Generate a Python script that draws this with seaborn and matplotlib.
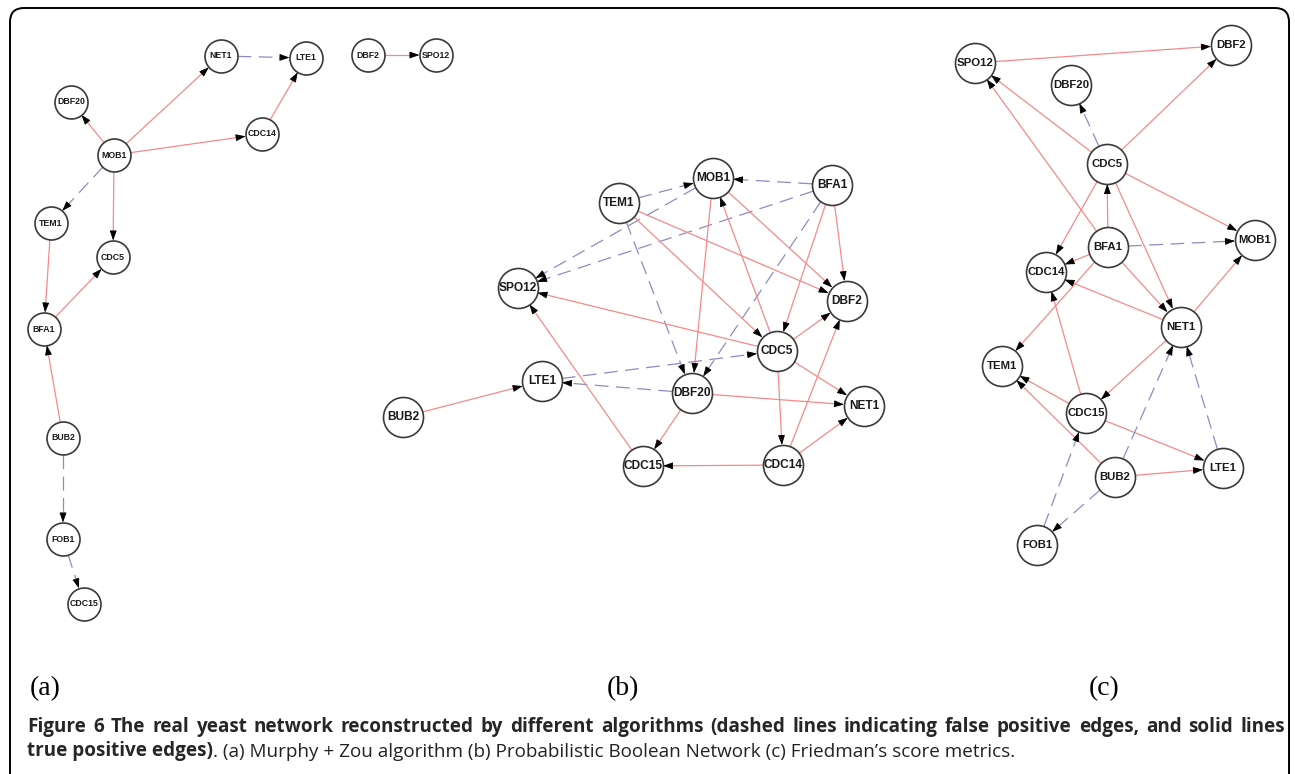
import numpy as np
import pandas as pd
import matplotlib
matplotlib.use('Agg')
import matplotlib.pyplot as plt
from matplotlib.patches import FancyBboxPatch
import seaborn as sns

# ---- panel (a): Murphy + Zou ----
a_nodes = ['NET1', 'LTE1', 'DBF2', 'SPO12', 'DBF20', 'MOB1', 'CDC14', 'TEM1',
           'CDC5', 'BFA1', 'BUB2', 'FOB1', 'CDC15']
a_x = [221, 306, 368, 436, 71, 114, 262, 51, 113, 44, 63, 63, 84]
a_y = [56, 58, 55, 55, 102, 155, 134, 223, 257, 329, 438, 539, 604]
a_src = ['NET1', 'DBF2', 'MOB1', 'MOB1', 'MOB1', 'CDC14', 'MOB1', 'MOB1', 'TEM1', 'BFA1', 'BUB2', 'BUB2', 'FOB1']
a_dst = ['LTE1', 'SPO12', 'DBF20', 'NET1', 'CDC14', 'LTE1', 'TEM1', 'CDC5', 'BFA1', 'CDC5', 'BFA1', 'FOB1', 'CDC15']
a_false = [1, 0, 0, 0, 0, 0, 1, 0, 0, 0, 0, 1, 1]

# ---- panel (b): Probabilistic Boolean Network ----
b_nodes = ['MOB1', 'BFA1', 'TEM1', 'SPO12', 'DBF2', 'CDC5', 'LTE1', 'DBF20',
           'NET1', 'BUB2', 'CDC15', 'CDC14']
b_x = [713, 832, 619, 518, 847, 777, 542, 692, 864, 403, 643, 783]
b_y = [178, 185, 203, 288, 301, 351, 381, 393, 406, 417, 466, 465]
b_src = ['BFA1', 'TEM1', 'MOB1', 'BFA1', 'TEM1', 'BFA1', 'MOB1', 'MOB1', 'TEM1', 'TEM1',
         'CDC5', 'BFA1', 'BFA1', 'CDC5', 'CDC5', 'CDC5', 'CDC5', 'LTE1', 'DBF20',
         'DBF20', 'DBF20', 'CDC15', 'CDC14', 'CDC14', 'CDC14', 'BUB2']
b_dst = ['MOB1', 'MOB1', 'SPO12', 'SPO12', 'DBF20', 'DBF20', 'DBF20', 'DBF2', 'DBF2', 'CDC5',
         'MOB1', 'CDC5', 'DBF2', 'SPO12', 'DBF2', 'NET1', 'CDC14', 'CDC5', 'LTE1',
         'NET1', 'CDC15', 'SPO12', 'CDC15', 'DBF2', 'NET1', 'LTE1']
b_false = [1, 1, 1, 1, 1, 1, 0, 0, 0, 0,
           0, 0, 0, 0, 0, 0, 0, 1, 1,
           0, 0, 0, 0, 0, 0, 0]

# ---- panel (c): Friedman's score metrics ----
c_nodes = ['SPO12', 'DBF2', 'DBF20', 'CDC5', 'MOB1', 'BFA1', 'CDC14', 'NET1',
           'TEM1', 'CDC15', 'LTE1', 'BUB2', 'FOB1']
c_x = [975, 1231, 1071, 1107, 1255, 1108, 1046, 1181, 1002, 1086, 1223, 1115, 1037]
c_y = [63, 45, 85, 164, 240, 247, 272, 327, 366, 413, 468, 477, 545]
c_src = ['SPO12', 'CDC5', 'CDC5', 'BFA1', 'CDC5', 'CDC5', 'BFA1', 'CDC5', 'CDC5', 'BFA1',
         'BFA1', 'BFA1', 'NET1', 'NET1', 'BFA1', 'CDC15', 'NET1', 'CDC15', 'BUB2',
         'CDC15', 'BUB2', 'BUB2', 'LTE1', 'FOB1', 'BUB2']
c_dst = ['DBF2', 'DBF20', 'SPO12', 'SPO12', 'DBF2', 'MOB1', 'CDC5', 'CDC14', 'NET1', 'MOB1',
         'CDC14', 'NET1', 'CDC14', 'MOB1', 'TEM1', 'CDC14', 'CDC15', 'TEM1', 'TEM1',
         'LTE1', 'LTE1', 'NET1', 'NET1', 'CDC15', 'FOB1']
c_false = [0, 1, 0, 0, 0, 0, 0, 0, 0, 1,
           0, 0, 0, 0, 0, 0, 0, 0, 0,
           0, 0, 1, 1, 1, 1]

panel_labels = ['(a)', '(b)', '(c)']
caption_bold_1 = ('Figure 6 The real yeast network reconstructed by different algorithms '
                  '(dashed lines indicating false positive edges, and solid lines')
caption_bold_2 = 'true positive edges)'
caption_rest = ('. (a) Murphy + Zou algorithm (b) Probabilistic Boolean Network '
                '(c) Friedman\u2019s score metrics.')

TRUE_C = '#f58a8a'
FALSE_C = '#8c8cc4'

sns.set_theme(style='white')
plt.rcParams['font.family'] = ['Liberation Sans', 'DejaVu Sans']

fig = plt.figure(figsize=(12.95, 7.74), dpi=100)
ax = fig.add_axes([0, 0, 1, 1])
ax.set_xlim(0, 1295)
ax.set_ylim(774, 0)
ax.axis('off')


def draw_panel(nodes, xs, ys, src, dst, false, radius, fsize):
    pos = {n: np.array([x, y], float) for n, x, y in zip(nodes, xs, ys)}
    for s, d, f in zip(src, dst, false):
        p, q = pos[s], pos[d]
        u = (q - p) / np.linalg.norm(q - p)
        start = p + u * radius
        end = q - u * radius
        head = 8.5
        ax.plot([start[0], end[0] - u[0] * head * 0.6], [start[1], end[1] - u[1] * head * 0.6],
                color=FALSE_C if f else TRUE_C, lw=0.9,
                dashes=(11, 6) if f else (None, None), zorder=1,
                solid_capstyle='butt')
        tail = end - u * head
        ax.annotate('', xy=end, xytext=tail,
                    arrowprops=dict(arrowstyle='-|>,head_length=1.0,head_width=0.35',
                                    mutation_scale=6, color='black', lw=0.6,
                                    shrinkA=0, shrinkB=0), zorder=2)
    df = pd.DataFrame({'node': nodes, 'x': xs, 'y': ys})
    diam_pt = 2 * radius * 0.72
    sns.scatterplot(data=df, x='x', y='y', s=diam_pt ** 2, color='white',
                    edgecolor='#3a3a3a', linewidth=1.2, ax=ax, zorder=3, legend=False)
    for n, x, y in zip(nodes, xs, ys):
        ax.text(x, y, n, ha='center', va='center', fontsize=fsize,
                fontweight='bold', color='#1a1a1a', zorder=4)


draw_panel(a_nodes, a_x, a_y, a_src, a_dst, a_false, 16.5, 6.3)
draw_panel(b_nodes, b_x, b_y, b_src, b_dst, b_false, 20, 8.6)
draw_panel(c_nodes, c_x, c_y, c_src, c_dst, c_false, 20, 8.2)
ax.set_xlim(0, 1295)
ax.set_ylim(774, 0)
ax.set_xlabel('')
ax.set_ylabel('')

for lab, lx in zip(panel_labels, [45, 623, 1104]):
    ax.text(lx, 689, lab, ha='center', va='center', fontsize=20,
            family='Liberation Serif', color='black')

frame = FancyBboxPatch((10, 8), 1279, 900, boxstyle='round,pad=0,rounding_size=14',
                       fill=False, ec='black', lw=1.4, zorder=0)
ax.add_patch(frame)

# caption: first line justified between x=27 and x=1285
cap_fs = 13.6
renderer = fig.canvas.get_renderer()
words = caption_bold_1.split(' ')
pieces = [ax.text(0, 732, w, fontsize=cap_fs, fontweight='bold', family='Open Sans',
                  va='baseline', ha='left') for w in words]
widths = [p.get_window_extent(renderer).width for p in pieces]
gap = (1285 - 27 - sum(widths)) / (len(words) - 1)
xcur = 27
for p, w in zip(pieces, widths):
    p.set_x(xcur)
    xcur += w + gap

t2 = ax.text(27, 756, caption_bold_2, fontsize=cap_fs, fontweight='bold',
             family='Open Sans', va='baseline', ha='left')
ax.annotate(caption_rest, xy=(1, 0), xycoords=t2, va='bottom', ha='left',
            fontsize=cap_fs, family='Open Sans', color='#222222')

fig.savefig('out.png', dpi=100)
